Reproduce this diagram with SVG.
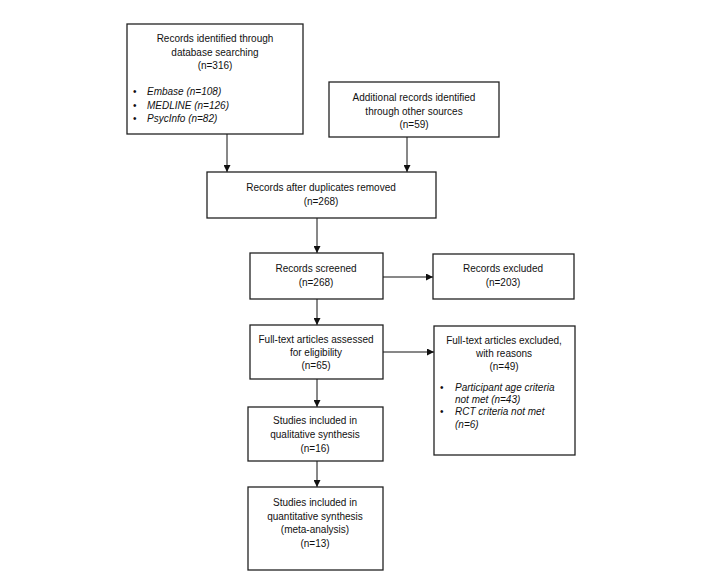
<svg xmlns="http://www.w3.org/2000/svg" width="704" height="581" viewBox="0 0 704 581">
<style>
rect.box{fill:#fff;stroke:#222;stroke-width:1.3}
text{font-family:"Liberation Sans",Arial,sans-serif;font-size:10px;fill:#111}
.c{text-anchor:middle}
.i{font-style:italic}
.con line{stroke:#111;stroke-width:1}
</style>
<defs>
<marker id="ah" viewBox="0 0 10 10" refX="10" refY="5" markerWidth="7" markerHeight="7" markerUnits="userSpaceOnUse" orient="auto">
<path d="M0,0 L10,5 L0,10 z" fill="#111"/>
</marker>
</defs>
<rect width="704" height="581" fill="#fff"/>
<g class="con">
<line x1="227" y1="134" x2="227" y2="172" marker-end="url(#ah)"/>
<line x1="407" y1="137" x2="407" y2="172" marker-end="url(#ah)"/>
<line x1="317" y1="218" x2="317" y2="253" marker-end="url(#ah)"/>
<line x1="383" y1="277" x2="433" y2="277" marker-end="url(#ah)"/>
<line x1="317" y1="299" x2="317" y2="325" marker-end="url(#ah)"/>
<line x1="383" y1="352" x2="434" y2="352" marker-end="url(#ah)"/>
<line x1="317" y1="379" x2="317" y2="407" marker-end="url(#ah)"/>
<line x1="317" y1="461" x2="317" y2="487" marker-end="url(#ah)"/>
</g>
<g id="n1">
<rect class="box" x="127" y="24" width="176" height="110"/>
<text class="c" x="215" y="42">Records identified through</text>
<text class="c" x="215" y="56">database searching</text>
<text class="c" x="215" y="69">(n=316)</text>
<text x="133" y="95">•</text><text class="i" x="147" y="95">Embase (n=108)</text>
<text x="133" y="109">•</text><text class="i" x="147" y="109">MEDLINE (n=126)</text>
<text x="133" y="122">•</text><text class="i" x="147" y="122">PsycInfo (n=82)</text>
</g>
<g id="n2">
<rect class="box" x="329" y="82" width="170" height="55"/>
<text class="c" x="414" y="101">Additional records identified</text>
<text class="c" x="414" y="115">through other sources</text>
<text class="c" x="414" y="128">(n=59)</text>
</g>
<g id="n3">
<rect class="box" x="207" y="172" width="229" height="46"/>
<text class="c" x="321" y="191">Records after duplicates removed</text>
<text class="c" x="321" y="205">(n=268)</text>
</g>
<g id="n4">
<rect class="box" x="250" y="253" width="133" height="46"/>
<text class="c" x="316" y="272">Records screened</text>
<text class="c" x="316" y="286">(n=268)</text>
</g>
<g id="n5">
<rect class="box" x="433" y="254" width="141" height="45"/>
<text class="c" x="503" y="272">Records excluded</text>
<text class="c" x="503" y="286">(n=203)</text>
</g>
<g id="n6">
<rect class="box" x="250" y="325" width="133" height="54"/>
<text class="c" x="316" y="343">Full-text articles assessed</text>
<text class="c" x="316" y="356">for eligibility</text>
<text class="c" x="316" y="369">(n=65)</text>
</g>
<g id="n7">
<rect class="box" x="434" y="326" width="141" height="129"/>
<text class="c" x="504" y="344">Full-text articles excluded,</text>
<text class="c" x="504" y="357">with reasons</text>
<text class="c" x="504" y="370">(n=49)</text>
<text x="440" y="391">•</text><text class="i" x="455" y="391">Participant age criteria</text>
<text class="i" x="455" y="403">not met (n=43)</text>
<text x="440" y="415">•</text><text class="i" x="455" y="415">RCT criteria not met</text>
<text class="i" x="455" y="428">(n=6)</text>
</g>
<g id="n8">
<rect class="box" x="248" y="407" width="135" height="54"/>
<text class="c" x="315" y="424">Studies included in</text>
<text class="c" x="315" y="438">qualitative synthesis</text>
<text class="c" x="315" y="452">(n=16)</text>
</g>
<g id="n9">
<rect class="box" x="248" y="487" width="135" height="83"/>
<text class="c" x="315" y="506">Studies included in</text>
<text class="c" x="315" y="520">quantitative synthesis</text>
<text class="c" x="315" y="533">(meta-analysis)</text>
<text class="c" x="315" y="547">(n=13)</text>
</g>
</svg>
